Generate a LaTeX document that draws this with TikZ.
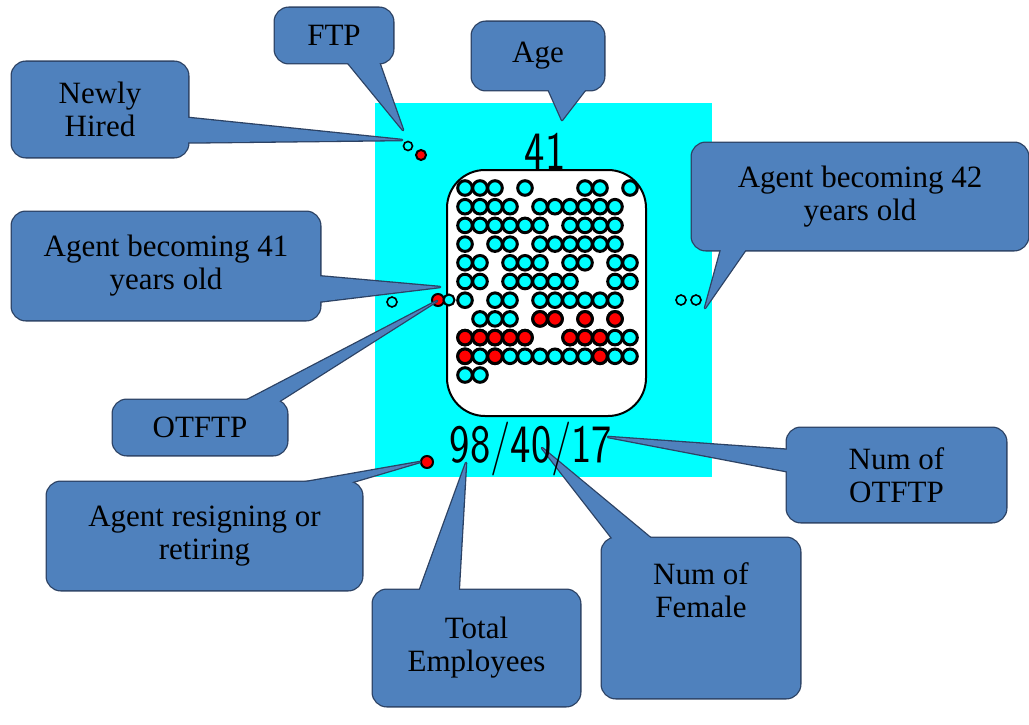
\documentclass[tikz,border=0pt]{standalone}
\usepackage{fontspec}
\setmainfont{Liberation Serif}
\usetikzlibrary{calc,positioning}
\definecolor{callfill}{RGB}{79,129,189}
\definecolor{callline}{RGB}{44,66,100}
\definecolor{field}{RGB}{0,255,255}
\pgfdeclarelayer{back}
\pgfdeclarelayer{mid}
\pgfsetlayers{back,mid,main}
\tikzset{
  callout/.style={align=center,font=\fontsize{31}{33}\selectfont,inner sep=0pt},
  agent/.style={draw=black,line width=3pt,fill=field},
  gone/.style={draw=black,line width=1.6pt},
  number/.style={font=\sffamily\fontsize{54}{54}\selectfont,xscale=.8,inner sep=0pt,anchor=base}
}
% box and wedge of one callout, drawn under its text
\newcommand\callshape[4]{%
  \begin{pgfonlayer}{mid}
    \draw[callline,line width=2.6pt,rounded corners=14pt](#1.south west)rectangle(#1.north east);
    \draw[callline,line width=2.6pt,line join=round](#2)--(#4)--(#3)--cycle;
    \fill[callfill,rounded corners=14pt](#1.south west)rectangle(#1.north east);
    \fill[callfill](#2)--(#4)--(#3)--cycle;
  \end{pgfonlayer}}

\begin{document}
\begin{tikzpicture}[x=1pt,y=-1pt]
\useasboundingbox(0,0)rectangle(1029,725);
\begin{pgfonlayer}{back}
\fill[field](375,103)rectangle(712,477);
\draw[line width=2pt,fill=white,rounded corners=38pt](447,170)rectangle(646,416);
\foreach \row/\cols in {0/{0,1,2,4,8,9,11},1/{0,1,2,3,5,6,7,8,9,10},2/{0,1,2,3,4,5,7,8,9,10},
  3/{0,2,3,5,6,7,8,9,10},4/{0,1,3,4,5,7,8,10,11},5/{0,1,3,4,5,6,7,10,11},6/{0,2,3,5,6,7,8,9,10},
  7/{1,2,3,5,6,8,10},8/{0,1,2,3,4,7,8,9,10,11},9/{0,1,2,3,4,5,6,7,8,9,10,11},10/{0,1}}
  \foreach \col in \cols
    \draw[agent]({465+15*\col},{188+18.7*\row})circle(7.3);
\foreach \row/\col in {7/5,7/6,7/8,7/10,8/0,8/1,8/2,8/3,8/4,8/7,8/8,8/9,9/0,9/2,9/9}
  \draw[agent,fill=red]({465+15*\col},{188+18.7*\row})circle(7.3);
% agents outside the pool
\draw[gone](408,146)circle(4.5);
\draw[agent,line width=2pt,fill=red](421,155)circle(5);
\draw[gone](392,302)circle(5);
\draw[agent,line width=2pt,fill=red](438,300)circle(6);
\draw[agent,line width=2pt](449,300)circle(5.5);
\draw[gone](681,300)circle(5);
\draw[gone](696,300)circle(5);
\draw[agent,line width=2pt,fill=red](427,462)circle(6);
\end{pgfonlayer}
\node[number](agenum)at(545,169){41};
\node[number](counts)at(531,462){98/40/17};
\coordinate(newin)at(402,140);
\coordinate(ftpin)at(403,130);
\coordinate(agetip)at(562,120);
\coordinate(up42)at(705,308);
\coordinate(up41)at(440,287);
\coordinate(otin)at(437,301);
\coordinate(out)at(420,462);
\coordinate(totaltip)at(466,463);
\coordinate(femaletip)at(542,448);
\coordinate(ottip)at(608,437);
\node[callout,minimum width=176pt,minimum height=95pt](hired)at(100,109.5){Newly\\Hired};
\node[callout,minimum width=118pt,minimum height=55pt](ftp)at(334,35.5){FTP};
\node[callout,minimum width=132pt,minimum height=68pt](agecall)at(538,56){Age};
\node[callout,minimum width=336pt,minimum height=107pt](old42)at(860,196.5){Agent becoming 42\\years old};
\node[callout,minimum width=308pt,minimum height=108pt](old41)at(166,266){Agent becoming 41\\years old};
\node[callout,minimum width=174pt,minimum height=55pt](otftp)at(200,427.5){OTFTP};
\node[callout,minimum width=315pt,minimum height=108pt](resign)at(204.5,536){Agent resigning or\\retiring};
\node[callout,minimum width=207pt,minimum height=116pt](total)at(476.5,648){Total\\Employees};
\node[callout,minimum width=198pt,minimum height=160pt](female)at(701,618){};
\node[callout](femaletext)at(701,590){Num of\\Female};
\node[callout,minimum width=219pt,minimum height=94pt](numot)at(896.5,475){Num of\\OTFTP};
\callshape{hired}{$(hired.east)+(-4,8)$}{$(hired.east)+(-4,33)$}{newin}
\callshape{ftp}{$(ftp.south)+(11,-4)$}{$(ftp.south)+(44,-4)$}{ftpin}
\callshape{agecall}{$(agecall.south)+(9,-4)$}{$(agecall.south)+(50,-4)$}{agetip}
\callshape{old42}{$(old42.south)+(-138,-4)$}{$(old42.south)+(-112,-4)$}{up42}
\callshape{old41}{$(old41.east)+(-4,10)$}{$(old41.east)+(-4,36)$}{up41}
\callshape{otftp}{$(otftp.north)+(40,4)$}{$(otftp.north)+(75,4)$}{otin}
\callshape{resign}{$(resign.north)+(80,4)$}{$(resign.north)+(135,4)$}{out}
\callshape{total}{$(total.north)+(-58,4)$}{$(total.north)+(-18,4)$}{totaltip}
\callshape{female}{$(female.north)+(-86,4)$}{$(female.north)+(-46,4)$}{femaletip}
\callshape{numot}{$(numot.west)+(4,-25)$}{$(numot.west)+(4,-3)$}{ottip}
\end{tikzpicture}
\end{document}
